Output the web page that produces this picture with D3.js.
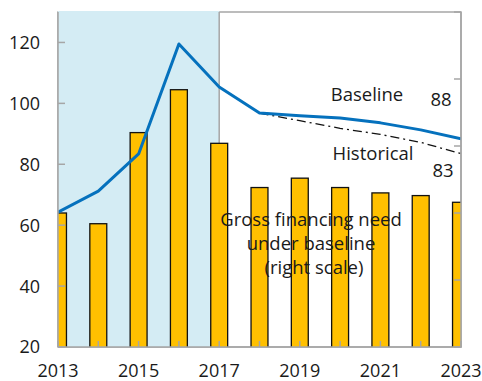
<!DOCTYPE html>
<html>
  <head>
    <meta charset="utf-8">
    <style>
      body { margin: 0; padding: 0; background: #fff; }
      svg { display: block; font-family: 'Open Sans', sans-serif; }
    </style>
  </head>
  <body>
    <div id="chart"></div>
    <script src="https://d3js.org/d3.v7.min.js"></script>
    <script>
      var years = [2013, 2014, 2015, 2016, 2017, 2018, 2019, 2020, 2021, 2022, 2023];
      var baseline = [64.3, 71.2, 83.4, 119.5, 105.4, 96.8, 95.9, 95.2, 93.6, 91.3, 88.4];
      var histYears = [2018, 2019, 2020, 2021, 2022, 2023];
      var historical = [96.8, 94.3, 91.8, 89.8, 87.2, 83.5];
      // gross financing need, right scale (unlabelled)
      var gfn = [10.0, 9.2, 16.0, 19.2, 15.2, 11.9, 12.6, 11.9, 11.5, 11.3, 10.8];
      var leftTicks = [20, 40, 60, 80, 100, 120];
      var rightTicks = [0, 5, 10, 15, 20, 25];
      var xTicks = [2013, 2015, 2017, 2019, 2021, 2023];

      var width = 482, height = 381;
      var plot = {left: 58, right: 461, top: 12, bottom: 347};

      var svg = d3.select("#chart").append("svg")
          .attr("width", width)
          .attr("height", height);

      var x = d3.scaleLinear().domain([2013, 2023]).range([plot.left, plot.right]);
      var y = d3.scaleLinear().domain([20, 130]).range([plot.bottom, plot.top]);
      var y2 = d3.scaleLinear().domain([0, 25]).range([plot.bottom, plot.top]);

      var grey = "#a6a6a6";

      svg.append("clipPath").attr("id", "plot")
        .append("rect")
          .attr("x", plot.left).attr("y", plot.top)
          .attr("width", plot.right - plot.left).attr("height", plot.bottom - plot.top);

      // frame
      svg.append("rect")
        .attr("x", plot.left).attr("y", plot.top)
        .attr("width", plot.right - plot.left).attr("height", plot.bottom - plot.top)
        .attr("fill", "none")
        .attr("stroke", grey)
        .attr("stroke-width", 1.5);

      // history shading
      svg.append("rect")
        .attr("x", plot.left).attr("y", plot.top - 1)
        .attr("width", x(2017) - plot.left).attr("height", plot.bottom - plot.top + 1)
        .attr("fill", "#d4ecf4");

      svg.append("line")
        .attr("x1", x(2017)).attr("x2", x(2017))
        .attr("y1", plot.top).attr("y2", plot.bottom)
        .attr("stroke", grey).attr("stroke-width", 1.5);

      // bars
      var bw = (x(2014) - x(2013)) * 0.42;
      svg.append("g")
          .attr("clip-path", "url(#plot)")
        .selectAll("rect")
        .data(years)
        .enter().append("rect")
          .attr("x", (d) => x(d) - bw / 2)
          .attr("y", (d, i) => y2(gfn[i]))
          .attr("width", bw)
          .attr("height", (d, i) => plot.bottom - y2(gfn[i]) + 2)
          .attr("fill", "#ffc000")
          .attr("stroke", "#111")
          .attr("stroke-width", 1.3);

      // lines
      var line = d3.line().x(d => x(d[0])).y(d => y(d[1]));

      var lines = svg.append("g").attr("clip-path", "url(#plot)");

      lines.append("path")
        .datum(d3.zip(histYears, historical))
        .attr("fill", "none")
        .attr("stroke", "#111")
        .attr("stroke-width", 1.3)
        .attr("stroke-dasharray", "9,4,2,4")
        .attr("d", line);

      lines.append("path")
        .datum(d3.zip(years, baseline))
        .attr("fill", "none")
        .attr("stroke", "#0571bd")
        .attr("stroke-width", 3)
        .attr("stroke-linejoin", "round")
        .attr("d", line);

      // axis lines
      svg.append("line")
        .attr("x1", plot.left).attr("x2", plot.left).attr("y1", plot.top).attr("y2", plot.bottom)
        .attr("stroke", grey).attr("stroke-width", 1.5);
      svg.append("line")
        .attr("x1", plot.left).attr("x2", plot.right + 0.75).attr("y1", plot.bottom).attr("y2", plot.bottom)
        .attr("stroke", grey).attr("stroke-width", 1.5);
      svg.append("line")
        .attr("x1", plot.right).attr("x2", plot.right).attr("y1", plot.top).attr("y2", plot.bottom)
        .attr("stroke", grey).attr("stroke-width", 1.5);

      // left ticks
      svg.append("g").selectAll("line")
        .data(leftTicks)
        .enter().append("line")
          .attr("x1", plot.left).attr("x2", plot.left + 7)
          .attr("y1", d => y(d)).attr("y2", d => y(d))
          .attr("stroke", grey).attr("stroke-width", 1.5);

      svg.append("g").selectAll("text")
        .data(leftTicks)
        .enter().append("text")
          .attr("x", 40)
          .attr("y", d => y(d))
          .attr("dy", "0.36em")
          .attr("text-anchor", "end")
          .attr("font-size", "18px")
          .attr("fill", "#1a1a1a")
          .text(d => d);

      // right ticks
      svg.append("g").selectAll("line")
        .data(rightTicks)
        .enter().append("line")
          .attr("x1", plot.right - 7).attr("x2", plot.right)
          .attr("y1", d => y2(d)).attr("y2", d => y2(d))
          .attr("stroke", grey).attr("stroke-width", 1.5);

      // bottom ticks
      svg.append("g").selectAll("line")
        .data(years)
        .enter().append("line")
          .attr("x1", d => x(d)).attr("x2", d => x(d))
          .attr("y1", plot.bottom - 6).attr("y2", plot.bottom)
          .attr("stroke", grey).attr("stroke-width", 1.5);

      svg.append("g").selectAll("text")
        .data(xTicks)
        .enter().append("text")
          .attr("x", d => x(d))
          .attr("y", 377)
          .attr("text-anchor", "middle")
          .attr("font-size", "18px")
          .attr("fill", "#1a1a1a")
          .text(d => d);

      // annotations
      var notes = [
        {t: "Baseline", x: 367, y: 101},
        {t: "88", x: 441, y: 106},
        {t: "Historical", x: 373, y: 160},
        {t: "83", x: 443, y: 177},
        {t: "Gross financing need", x: 311, y: 226},
        {t: "under baseline", x: 311, y: 250},
        {t: "(right scale)", x: 314, y: 274}
      ];
      svg.append("g").selectAll("text")
        .data(notes)
        .enter().append("text")
          .attr("x", d => d.x)
          .attr("y", d => d.y)
          .attr("text-anchor", "middle")
          .attr("font-size", "18.5px")
          .attr("fill", "#1a1a1a")
          .text(d => d.t);
    </script>
  </body>
</html>
